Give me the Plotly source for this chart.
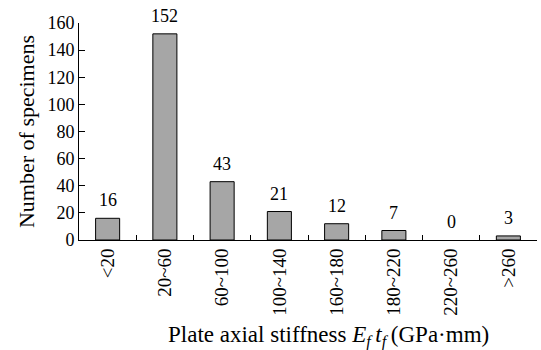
import plotly.graph_objects as go

categories = ["<20", "20~60", "60~100", "100~140", "160~180", "180~220", "220~260", ">260"]
counts = [16, 152, 43, 21, 12, 7, 0, 3]
y_ticks = [0, 20, 40, 60, 80, 100, 120, 140, 160]

FONT = "Liberation Serif, Times New Roman, serif"

fig = go.Figure()
fig.add_trace(go.Bar(
    x=categories, y=counts,
    marker=dict(color="#a6a6a6",
                line=dict(color="#000000", width=[1 if v > 0 else 0 for v in counts])),
    width=0.42,
))
for c, v in zip(categories, counts):
    fig.add_annotation(x=c, y=v, text=str(v), showarrow=False,
                       yanchor="bottom", yshift=6,
                       font=dict(family=FONT, size=18, color="#000"))

fig.add_annotation(
    xref="paper", yref="paper", x=0.545, y=0, yshift=-96,
    xanchor="center", yanchor="middle", showarrow=False,
    text="Plate axial stiffness <i>E</i><sub><i>f</i></sub>\u2009<i>t</i><sub><i>f</i></sub>\u2009(GPa·mm)",
    font=dict(family=FONT, size=23, color="#000"),
)

fig.update_layout(
    width=541, height=350,
    margin=dict(l=79, r=4, t=23, b=110),
    paper_bgcolor="white", plot_bgcolor="white",
    showlegend=False,
    font=dict(family=FONT, size=18, color="#000"),
    xaxis=dict(
        type="category", range=[-0.5, 7.5],
        showline=True, linecolor="#000", linewidth=1,
        ticks="inside", ticklen=5, tickcolor="#000", tickson="boundaries",
        tickangle=-90, showgrid=False, zeroline=False,
        tickfont=dict(family=FONT, size=19),
    ),
    yaxis=dict(
        range=[0, 160], tickvals=y_ticks,
        showline=True, linecolor="#000", linewidth=1,
        ticks="inside", ticklen=6, tickcolor="#000",
        showgrid=False, zeroline=False,
        tickfont=dict(family=FONT, size=18),
        title=dict(text="Number of specimens", font=dict(family=FONT, size=22), standoff=6),
    ),
)
fig.write_html("out.html")
